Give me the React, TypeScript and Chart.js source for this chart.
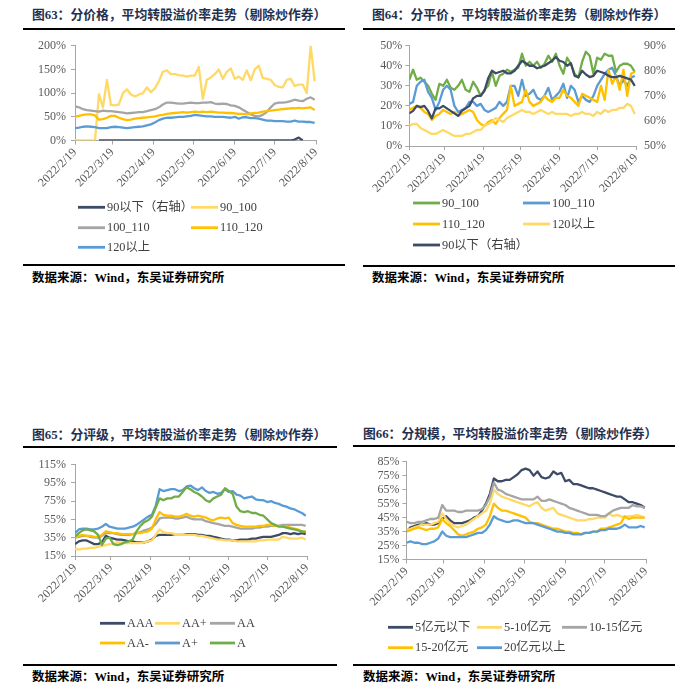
import React, { useEffect, useRef } from "react";
import { Chart, registerables } from "chart.js";
Chart.register(...registerables);

// ---------- shared x axis (days since 2022/2/19, one sample every 3 days) ----------
const DAY_STEP = 3;
const MONTH_DAYS = [0, 28, 59, 89, 120, 150, 181];
const MONTH_LABELS = ["2022/2/19", "2022/3/19", "2022/4/19", "2022/5/19", "2022/6/19", "2022/7/19", "2022/8/19"];

// ---------- 图63 分价格 ----------
const P63_NAMES = ["90以下（右轴）", "90_100", "100_110", "110_120", "120以上"];
const P63_BELOW90 = [null, null, null, null, null, null,
  0, 0, 0, 0, 0, 0, 0, 0, 0, 0, 0, 0, 0, 0, 0, 0, 0, 0, 0, 0, 0, 0, 0, 0, 0, 0, 0, 0, 0, 0, 0, 0, 0, 0, 0, 0, 0, 0, 0, 0, 0, 0, 0, 0, 0, 0, 0, 0, 0,
  1, 3, 0, null, null, null];
const P63_90_100 = [0, 0, 0, 0, 0, 0,
  98, 70, 128, 75, 74, 76, 100, 108, 97, 93, 97, 100, 112, 102, 110, 125, 145, 148, 140, 140,
  138, 137, 135, 137, 137, 155, 88, 128, 133, 140, 150, 130, 145, 152, 130, 135, 128, 148, 127, 150,
  158, 132, 130, 128, 117, 113, 112, 128, 130, 115, 118, 118, 100, 200, 125];
const P63_100_110 = [72, 70, 66, 64, 63, 62, 61, 63, 62, 62, 61, 60, 59, 57, 58, 59, 60, 60, 62, 64,
  66, 70, 76, 80, 80, 79, 78, 78, 79, 80, 79, 79, 80, 80, 81, 78, 77, 78, 77, 74,
  73, 70, 65, 60, 55, 52, 51, 54, 60, 70, 78, 80, 80, 81, 83, 86, 84, 83, 88, 91, 86];
const P63_110_120 = [50, 52, 54, 55, 55, 53, 44, 45, 48, 52, 52, 48, 45, 43, 44, 46, 47, 48, 49, 50,
  51, 53, 54, 56, 57, 58, 59, 60, 59, 60, 61, 60, 61, 60, 61, 60, 59, 59, 58, 58,
  57, 56, 56, 55, 57, 58, 59, 61, 62, 63, 64, 65, 66, 67, 68, 68, 69, 68, 69, 70, 64];
const P63_120UP = [26, 27, 29, 30, 29, 28, 26, 26, 26, 28, 29, 28, 27, 26, 27, 28, 29, 30, 32, 34,
  38, 43, 46, 48, 48, 49, 50, 50, 51, 52, 54, 53, 52, 51, 51, 50, 50, 50, 49, 48,
  50, 46, 49, 49, 47, 47, 46, 44, 42, 42, 41, 41, 41, 40, 40, 42, 40, 40, 39, 39, 37];
const P63_Y_TICKS = [0, 200, 50];

// ---------- 图64 分平价 ----------
const P64_NAMES = ["90_100", "100_110", "110_120", "120以上", "90以下（右轴）"];
const P64_90_100 = [33, 38, 33, 34, 32, 30, 26, 23, 31, 30, 33, 29, 28, 30, 33, 28, 27, 32, 29, 25,
  28, 30, 37, 30, 35, 36, 38, 37, 38, 39, 46, 40, 42, 40, 42, 39, 41, 45, 42, 46,
  40, 36, 44, 41, 36, 34, 42, 47, 45, 36, 44, 43, 46, 45, 45, 37, 40, 41, 41, 40, 37];
const P64_100_110 = [21, 22, 30, 32, 33, 27, 24, 18, 22, 28, 30, 28, 20, 17, 18, 19, 22, 22, 20, 21,
  18, 17, 18, 19, 22, 20, 22, 30, 30, 25, 33, 25, 26, 28, 24, 23, 25, 29, 23, 25,
  27, 31, 24, 30, 28, 22, 25, 23, 22, 25, 30, 33, 36, 38, 39, 35, 30, 33, 30, 34, 35];
const P64_110_120 = [18, 19, 20, 19, 17, 16, 13, 15, 16, 18, 17, 16, 17, 15, 16, 17, 18, 17, 13, 11,
  10, 12, 13, 11, 14, 16, 18, 30, 20, 21, 22, 28, 22, 20, 21, 22, 25, 23, 22, 24,
  24, 28, 25, 24, 22, 20, 26, 25, 24, 23, 22, 30, 23, 38, 31, 35, 28, 38, 25, 36, 37];
const P64_120UP = [10, 11, 11, 9, 8, 7, 6, 6, 7, 8, 7, 6, 5, 5, 5, 6, 6, 7, 8, 8,
  10, 11, 12, 14, 13, 12, 14, 15, 16, 17, 18, 17, 17, 16, 17, 18, 17, 16, 17, 16,
  16, 16, 16, 15, 16, 16, 17, 16, 16, 15, 17, 16, 18, 17, 18, 18, 19, 19, 21, 20, 16];
const P64_BELOW90 = [63, 64, 66, 65.5, 66, 64, 61, 65, 65, 66, 65, 64, 63, 62, 64, 65, 66, 69, 70, 70,
  72, 77, 80, 79, 79.5, 80, 79, 79, 80, 82, 84, 83, 82, 82, 81, 81.5, 82, 83, 84, 85.5,
  84, 83.5, 82, 83, 78, 77.5, 80, 78.5, 77.5, 78, 80, 79.5, 79, 78, 77.5, 77.5, 78, 77.5, 77, 76.5, 74];
const P64_Y_TICKS = [0, 50, 10];
const P64_Y1_TICKS = [50, 90, 10];

// ---------- 图65 分评级 ----------
const P65_NAMES = ["AAA", "AA+", "AA", "AA-", "A+", "A"];
const P65_AAA = [28, 31, 32, 32, 30, 28, 28, 30, 37, 35, 34, 33, 33, 32, 31, 31, 30, 30, 30, 31,
  33, 37, 38, 38, 38, 38, 39, 39, 39, 39, 39, 39, 38, 38, 37, 37, 36, 35, 34, 33,
  33, 32, 32, 33, 33, 33, 34, 34, 35, 36, 36, 36, 37, 38, 40, 40, 39, 40, 39, 40, 39];
const P65_AAP = [23, 22, 23, 23, 24, 24, 25, 26, 27, 28, 28, 30, 30, 29, 29, 29, 29, 29, 30, 31,
  32, 38, 44, 41, 40, 40, 39, 39, 39, 38, 38, 38, 37, 37, 36, 35, 34, 33, 33, 32,
  32, 32, 31, 31, 31, 31, 31, 31, 32, 32, 33, 33, 33, 33, 36, 35, 34, 34, 34, 35, 33];
const P65_AA = [35, 36, 37, 37, 36, 35, 35, 37, 40, 40, 40, 39, 38, 38, 38, 39, 40, 41, 43, 44,
  46, 50, 56, 57, 57, 57, 56, 56, 57, 58, 56, 55, 55, 55, 53, 52, 51, 50, 49, 48,
  48, 47, 46, 45, 45, 45, 45, 46, 46, 47, 47, 48, 48, 48, 49, 49, 49, 49, 49, 49, 48];
const P65_AAM = [35, 37, 38, 37, 37, 36, 36, 38, 42, 41, 40, 40, 39, 39, 39, 39, 40, 40, 41, 42,
  45, 55, 63, 60, 59, 59, 58, 58, 59, 61, 59, 58, 59, 58, 57, 55, 54, 56, 57, 56,
  57, 51, 49, 48, 47, 47, 47, 47, 48, 48, 49, 49, 48, 48, 47, 47, 46, 45, 44, 42, 42];
const P65_AP = [40, 44, 45, 45, 44, 44, 45, 47, 50, 47, 46, 45, 45, 45, 46, 47, 49, 52, 55, 58,
  60, 70, 88, 86, 87, 88, 88, 86, 87, 91, 92, 89, 87, 90, 86, 84, 85, 83, 84, 88,
  85, 86, 82, 81, 78, 79, 80, 77, 76, 76, 74, 75, 73, 72, 70, 69, 67, 66, 64, 62, 59];
const P65_A = [36, 40, 43, 44, 43, 42, 38, 27, 34, 35, 28, 27, 28, 30, 31, 33, 42, 48, 52, 54,
  58, 68, 78, 76, 78, 78, 80, 80, 85, 90, 88, 85, 83, 80, 76, 74, 78, 80, 82, 89,
  86, 83, 69, 64, 63, 64, 62, 62, 60, 59, 55, 51, 49, 47, 47, 46, 45, 44, 43, 42, 41];
const P65_Y_TICKS = [15, 115, 20];

// ---------- 图66 分规模 ----------
const P66_NAMES = ["5亿元以下", "5-10亿元", "10-15亿元", "15-20亿元", "20亿元以上"];
const P66_U5 = [35, 38, 39, 40, 40, 41, 40, 40, 41, 44, 46, 43, 41, 41, 41, 42, 43, 45, 46, 50,
  55, 62, 73, 71, 71, 72, 72, 74, 76, 79, 80, 79, 75, 78, 74, 73, 74, 78, 76, 77,
  71, 72, 69, 69, 68, 67, 66, 66, 65, 64, 63, 62, 61, 60, 60, 58, 56, 56, 55, 54, 52];
const P66_5_10 = [36, 37, 38, 39, 40, 40, 40, 41, 42, 48, 44, 41, 39, 38, 39, 40, 42, 44, 46, 48,
  50, 55, 65, 62, 60, 59, 58, 57, 56, 55, 54, 53, 55, 56, 52, 50, 51, 52, 48, 47,
  46, 45, 44, 43, 43, 43, 44, 44, 45, 45, 45, 48, 46, 47, 46, 45, 46, 46, 47, 46, 45];
const P66_10_15 = [42, 41, 41, 42, 42, 43, 44, 44, 45, 54, 50, 50, 50, 49, 49, 50, 50, 50, 50, 51,
  54, 60, 70, 65, 64, 62, 61, 60, 59, 58, 58, 58, 58, 60, 57, 57, 58, 57, 56, 55,
  54, 52, 51, 50, 49, 48, 47, 47, 47, 46, 46, 48, 50, 51, 52, 52, 52, 54, 53, 53, 52];
const P66_15_20 = [35, 36, 37, 38, 37, 36, 37, 37, 38, 44, 41, 39, 36, 33, 32, 33, 34, 35, 37, 38,
  40, 46, 55, 52, 50, 50, 49, 48, 47, 46, 45, 42, 41, 41, 40, 39, 38, 37, 37, 36,
  35, 35, 34, 34, 33, 34, 34, 35, 35, 37, 37, 38, 39, 40, 41, 46, 44, 45, 45, 45, 45];
const P66_O20 = [27, 28, 27, 27, 26, 26, 27, 28, 30, 35, 32, 31, 31, 31, 31, 31, 32, 33, 34, 34,
  36, 40, 46, 44, 43, 42, 42, 43, 43, 42, 41, 41, 41, 40, 39, 38, 37, 36, 35, 35,
  34, 34, 33, 33, 33, 34, 34, 35, 35, 36, 36, 37, 37, 37, 38, 40, 38, 38, 38, 39, 38];
const P66_Y_TICKS = [15, 85, 10];

// ---------- styling ----------
const NAVY = "#3E4B66";
const LIGHT_YELLOW = "#FFD966";
const GRAY = "#A5A5A5";
const GOLD = "#FFC000";
const BLUE = "#5B9BD5";
const GREEN = "#70AD47";
const SERIF = "'Liberation Serif', 'Times New Roman', 'Noto Sans CJK SC', serif";
const AXIS_COLOR = "#A6A6A6";
const TICK_COLOR = "#595959";

type Series = { label: string; data: (number | null)[]; color: string; axis?: string };
type PanelCfg = {
  box: { x: number; y: number; w: number; h: number };
  padding: { left: number; top: number; right: number; bottom: number };
  yWidth: number;
  xHeight: number;
  yPad: number;
  yTicks: number[];
  y1?: { ticks: number[]; show: boolean; width: number };
  series: Series[];
  legend: { cols: number[]; rows: number[]; cells: number[][]; lineLen: number };
};

const gridLegend = {
  id: "gridLegend",
  afterDraw(chart: any, _args: any, opts: any) {
    const ctx = chart.ctx;
    const cells = opts.cells;
    chart.data.datasets.forEach((ds: any, i: number) => {
      const c = cells[i];
      const x = opts.cols[c[0]];
      const y = opts.rows[c[1]];
      ctx.save();
      ctx.strokeStyle = ds.borderColor;
      ctx.lineWidth = 2.8;
      ctx.beginPath();
      ctx.moveTo(x, y);
      ctx.lineTo(x + opts.lineLen, y);
      ctx.stroke();
      ctx.fillStyle = "#404040";
      ctx.font = "12.3px " + SERIF;
      ctx.textBaseline = "middle";
      ctx.textAlign = "left";
      ctx.fillText(ds.label, x + opts.lineLen + 2, y + 0.5);
      ctx.restore();
    });
  },
};

function points(vals: (number | null)[]) {
  return vals.map((v, i) => ({ x: i * DAY_STEP, y: v }));
}

function buildConfig(cfg: PanelCfg): any {
  const font = { family: SERIF, size: 12 };
  const n = cfg.series.length;
  const scales: any = {
    x: {
      type: "linear",
      min: 0,
      max: 181,
      afterBuildTicks: (s: any) => {
        s.ticks = MONTH_DAYS.map((v) => ({ value: v }));
      },
      afterFit: (s: any) => {
        s.height = cfg.xHeight;
      },
      ticks: {
        autoSkip: false,
        maxRotation: 45,
        minRotation: 45,
        font,
        color: TICK_COLOR,
        padding: 1,
        callback: (v: number) => {
          const k = MONTH_DAYS.indexOf(v);
          return k >= 0 ? MONTH_LABELS[k] : "";
        },
      },
      grid: { display: true, drawOnChartArea: false, drawTicks: true, tickLength: 4, color: AXIS_COLOR },
      border: { display: true, color: AXIS_COLOR },
    },
    y: {
      position: "left",
      min: cfg.yTicks[0],
      max: cfg.yTicks[1],
      afterFit: (s: any) => {
        s.width = cfg.yWidth;
      },
      ticks: {
        stepSize: cfg.yTicks[2],
        autoSkip: false,
        maxTicksLimit: 20,
        font,
        color: TICK_COLOR,
        padding: cfg.yPad,
        callback: (v: number) => v + "%",
      },
      grid: { display: true, drawOnChartArea: false, drawTicks: true, tickLength: 4, color: AXIS_COLOR },
      border: { display: true, color: AXIS_COLOR },
    },
  };
  if (cfg.y1) {
    const y1 = cfg.y1;
    scales.y1 = {
      position: "right",
      display: y1.show,
      min: y1.ticks[0],
      max: y1.ticks[1],
      afterFit: (s: any) => {
        s.width = y1.width;
      },
      ticks: {
        stepSize: y1.ticks[2],
        autoSkip: false,
        font,
        color: TICK_COLOR,
        padding: 8,
        callback: (v: number) => v + "%",
      },
      grid: { display: false, drawTicks: false },
      border: { display: false },
    };
  }
  return {
    type: "line",
    data: {
      datasets: cfg.series.map((s, i) => ({
        label: s.label,
        data: points(s.data),
        borderColor: s.color,
        backgroundColor: s.color,
        borderWidth: 2.3,
        pointRadius: 0,
        tension: 0,
        spanGaps: false,
        borderJoinStyle: "round",
        yAxisID: s.axis || "y",
        order: n - i,
      })),
    },
    options: {
      responsive: false,
      animation: false,
      devicePixelRatio: 1,
      layout: { padding: cfg.padding },
      scales,
      plugins: {
        legend: { display: false },
        tooltip: { enabled: false },
        gridLegend: cfg.legend,
      },
    },
    plugins: [gridLegend],
  };
}

const PANELS: PanelCfg[] = [
  {
    box: { x: 0, y: 30, w: 350, h: 232 },
    padding: { left: 0, top: 15.7, right: 34, bottom: 61.5 },
    yWidth: 75,
    xHeight: 60,
    yPad: 5,
    yTicks: P63_Y_TICKS,
    y1: { ticks: [0, 100, 20], show: false, width: 0 },
    series: [
      { label: P63_NAMES[0], data: P63_BELOW90, color: NAVY, axis: "y1" },
      { label: P63_NAMES[1], data: P63_90_100, color: LIGHT_YELLOW },
      { label: P63_NAMES[2], data: P63_100_110, color: GRAY },
      { label: P63_NAMES[3], data: P63_110_120, color: GOLD },
      { label: P63_NAMES[4], data: P63_120UP, color: BLUE },
    ],
    legend: { cols: [78, 191], rows: [177.3, 197.7, 217.3], cells: [[0, 0], [1, 0], [0, 1], [1, 1], [0, 2]], lineLen: 27 },
  },
  {
    box: { x: 350, y: 30, w: 350, h: 232 },
    padding: { left: 0, top: 15.7, right: 24, bottom: 56 },
    yWidth: 59.3,
    xHeight: 60,
    yPad: 3,
    yTicks: P64_Y_TICKS,
    y1: { ticks: P64_Y1_TICKS, show: true, width: 40 },
    series: [
      { label: P64_NAMES[0], data: P64_90_100, color: GREEN },
      { label: P64_NAMES[1], data: P64_100_110, color: BLUE },
      { label: P64_NAMES[2], data: P64_110_120, color: GOLD },
      { label: P64_NAMES[3], data: P64_120UP, color: LIGHT_YELLOW },
      { label: P64_NAMES[4], data: P64_BELOW90, color: NAVY, axis: "y1" },
    ],
    legend: { cols: [63, 173], rows: [173, 194, 215], cells: [[0, 0], [1, 0], [0, 1], [1, 1], [0, 2]], lineLen: 27 },
  },
  {
    box: { x: 0, y: 450, w: 350, h: 205 },
    padding: { left: 0, top: 14.5, right: 43, bottom: 39 },
    yWidth: 75,
    xHeight: 60,
    yPad: 5,
    yTicks: P65_Y_TICKS,
    series: [
      { label: P65_NAMES[0], data: P65_AAA, color: NAVY },
      { label: P65_NAMES[1], data: P65_AAP, color: LIGHT_YELLOW },
      { label: P65_NAMES[2], data: P65_AA, color: GRAY },
      { label: P65_NAMES[3], data: P65_AAM, color: GOLD },
      { label: P65_NAMES[4], data: P65_AP, color: BLUE },
      { label: P65_NAMES[5], data: P65_A, color: GREEN },
    ],
    legend: { cols: [100, 155, 210], rows: [173.3, 193], cells: [[0, 0], [1, 0], [2, 0], [0, 1], [1, 1], [2, 1]], lineLen: 25 },
  },
  {
    box: { x: 350, y: 450, w: 350, h: 210 },
    padding: { left: 0, top: 11.7, right: 54, bottom: 40.5 },
    yWidth: 56.5,
    xHeight: 60,
    yPad: 3,
    yTicks: P66_Y_TICKS,
    series: [
      { label: P66_NAMES[0], data: P66_U5, color: NAVY },
      { label: P66_NAMES[1], data: P66_5_10, color: LIGHT_YELLOW },
      { label: P66_NAMES[2], data: P66_10_15, color: GRAY },
      { label: P66_NAMES[3], data: P66_15_20, color: GOLD },
      { label: P66_NAMES[4], data: P66_O20, color: BLUE },
    ],
    legend: { cols: [38, 127, 212], rows: [177.3, 197.7], cells: [[0, 0], [1, 0], [2, 0], [0, 1], [1, 1]], lineLen: 25 },
  },
];

const TITLES = [
  "图63：分价格，平均转股溢价率走势（剔除炒作券）",
  "图64：分平价，平均转股溢价率走势（剔除炒作券）",
  "图65：分评级，平均转股溢价率走势（剔除炒作券）",
  "图66：分规模，平均转股溢价率走势（剔除炒作券）",
];
const SOURCE = "数据来源：Wind，东吴证券研究所";

const FRAMES = [
  { tx: 32, ty: 7, rx: 23, rw: 322, r1: 28, r2: 264, sy: 269.5 },
  { tx: 372, ty: 7, rx: 363, rw: 312, r1: 28, r2: 265, sy: 270 },
  { tx: 32, ty: 426.5, rx: 23, rw: 314, r1: 446, r2: 664, sy: 669 },
  { tx: 363, ty: 426, rx: 353, rw: 322, r1: 445, r2: 664, sy: 669 },
];

function ChartPanel({ cfg }: { cfg: PanelCfg }) {
  const ref = useRef<HTMLCanvasElement>(null);
  useEffect(() => {
    const chart = new Chart(ref.current as HTMLCanvasElement, buildConfig(cfg));
    return () => chart.destroy();
  }, [cfg]);
  return (
    <canvas
      ref={ref}
      width={cfg.box.w}
      height={cfg.box.h}
      style={{ position: "absolute", left: cfg.box.x, top: cfg.box.y, width: cfg.box.w, height: cfg.box.h }}
    />
  );
}

const textBase: React.CSSProperties = {
  position: "absolute",
  fontFamily: "'Liberation Serif', 'Noto Sans CJK SC', serif",
  fontWeight: 700,
  fontSize: "12.5px",
  lineHeight: "16px",
  whiteSpace: "nowrap",
};

export default function App() {
  return (
    <div style={{ position: "absolute", left: 0, top: 0, width: 700, height: 695, background: "#ffffff", overflow: "hidden" }}>
      {FRAMES.map((f, i) => (
        <React.Fragment key={i}>
          <div style={{ ...textBase, fontSize: "12.8px", left: f.tx, top: f.ty, color: "#1F3050" }}>{TITLES[i]}</div>
          <div style={{ position: "absolute", left: f.rx, top: f.r1, width: f.rw, height: 2, background: "#000" }} />
          <div style={{ position: "absolute", left: f.rx, top: f.r2, width: f.rw, height: 2, background: "#000" }} />
          <div style={{ ...textBase, left: f.tx, top: f.sy, color: "#000" }}>{SOURCE}</div>
        </React.Fragment>
      ))}
      {PANELS.map((p, i) => (
        <ChartPanel key={i} cfg={p} />
      ))}
    </div>
  );
}
